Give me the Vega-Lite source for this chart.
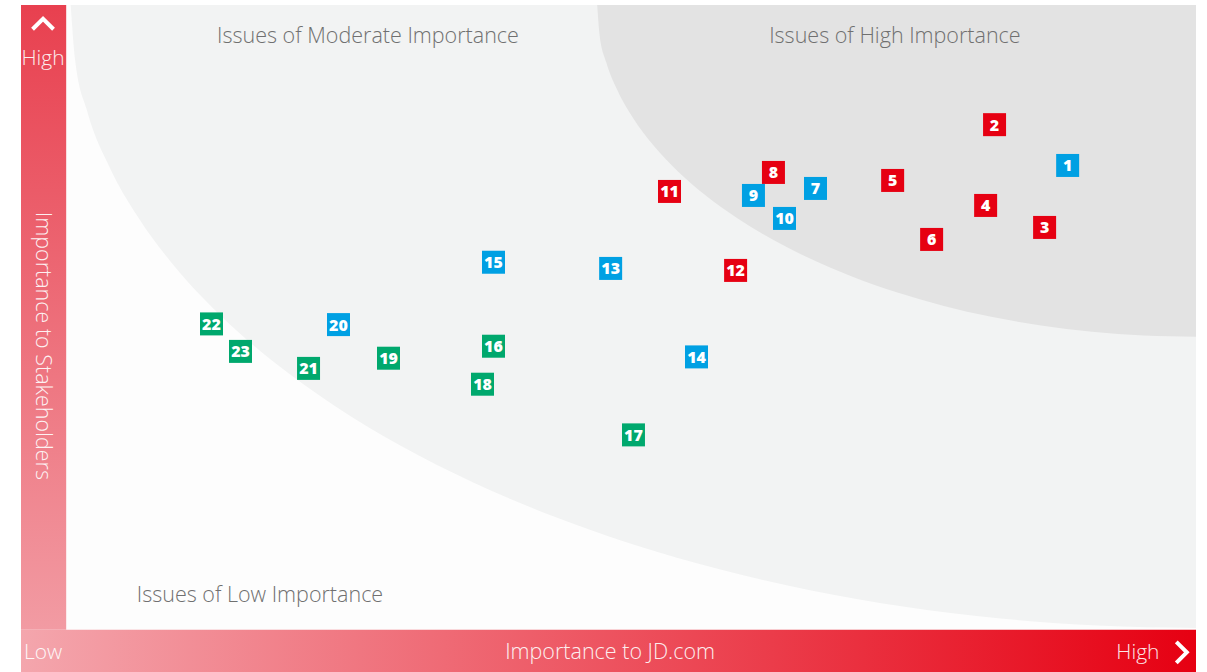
{
  "$schema": "https://vega.github.io/schema/vega-lite/v6.json",
  "width": 1175,
  "height": 667,
  "autosize": {"type": "none"},
  "padding": {"left": 21, "top": 5, "right": 11, "bottom": 0},
  "background": "#ffffff",
  "config": {"view": {"stroke": null, "fill": "#fdfdfd"}},
  "layer": [
    {
      "data": {"values": [
        {"x": 0.4, "y": 100}, {"x": 0.78, "y": 91.31}, {"x": 1.91, "y": 82.69}, {"x": 3.8, "y": 74.2},
        {"x": 6.41, "y": 65.9}, {"x": 9.73, "y": 57.87}, {"x": 13.75, "y": 50.15}, {"x": 18.41, "y": 42.81},
        {"x": 23.71, "y": 35.91}, {"x": 29.57, "y": 29.5}, {"x": 35.98, "y": 23.63}, {"x": 42.87, "y": 18.33},
        {"x": 50.2, "y": 13.66}, {"x": 57.91, "y": 9.64}, {"x": 65.94, "y": 6.31}, {"x": 74.22, "y": 3.7},
        {"x": 82.71, "y": 1.82}, {"x": 91.31, "y": 0.68}, {"x": 100, "y": 0.3}
      ]},
      "mark": {"type": "area", "color": "#f2f3f3", "interpolate": "monotone", "opacity": 1},
      "encoding": {
        "x": {"field": "x", "type": "quantitative", "scale": {"domain": [-4, 100], "nice": false, "zero": false}, "axis": null},
        "y": {"field": "y", "type": "quantitative", "scale": {"domain": [-6.75, 100], "nice": false, "zero": false}, "axis": null},
        "y2": {"datum": 100}
      }
    },
    {
      "data": {"values": [
        {"x": 47, "y": 100}, {"x": 47.2, "y": 95.37}, {"x": 47.81, "y": 90.78}, {"x": 48.81, "y": 86.26},
        {"x": 50.2, "y": 81.84}, {"x": 51.97, "y": 77.56}, {"x": 54.1, "y": 73.45}, {"x": 56.58, "y": 69.54},
        {"x": 59.4, "y": 65.87}, {"x": 62.52, "y": 62.45}, {"x": 65.93, "y": 59.33}, {"x": 69.6, "y": 56.5},
        {"x": 73.5, "y": 54.02}, {"x": 77.6, "y": 51.88}, {"x": 81.87, "y": 50.1}, {"x": 86.28, "y": 48.71},
        {"x": 90.8, "y": 47.71}, {"x": 95.38, "y": 47.1}, {"x": 100, "y": 46.9}
      ]},
      "mark": {"type": "area", "color": "#e3e3e3", "interpolate": "monotone", "opacity": 1},
      "encoding": {
        "x": {"field": "x", "type": "quantitative", "scale": {"domain": [-4, 100], "nice": false, "zero": false}, "axis": null},
        "y": {"field": "y", "type": "quantitative", "scale": {"domain": [-6.75, 100], "nice": false, "zero": false}, "axis": null},
        "y2": {"datum": 100}
      }
    },
    {
      "data": {"values": [{}]},
      "mark": {"type": "rect", "fill": {"gradient": "linear", "x1": 0, "y1": 0, "x2": 0, "y2": 1, "stops": [{"offset": 0, "color": "#e8404f"}, {"offset": 1, "color": "#f29ba3"}]}},
      "encoding": {
        "x": {"datum": -4, "type": "quantitative"},
        "x2": {"datum": 0},
        "y": {"datum": 0, "type": "quantitative"},
        "y2": {"datum": 100}
      }
    },
    {
      "data": {"values": [{}]},
      "mark": {"type": "rect", "fill": {"gradient": "linear", "x1": 0, "y1": 0, "x2": 1, "y2": 0, "stops": [{"offset": 0, "color": "#f4a6ad"}, {"offset": 1, "color": "#e60012"}]}},
      "encoding": {
        "x": {"datum": -4, "type": "quantitative"},
        "x2": {"datum": 100},
        "y": {"datum": -6.75, "type": "quantitative"},
        "y2": {"datum": 0}
      }
    },
    {
      "data": {"values": [{}]},
      "mark": {"type": "text", "text": "Issues of Moderate Importance", "font": "Open Sans", "fontSize": 21.5, "fontWeight": 300, "color": "#707070", "align": "center", "baseline": "alphabetic"},
      "encoding": {"x": {"datum": 26.71, "type": "quantitative"}, "y": {"datum": 93.87, "type": "quantitative"}}
    },
    {
      "data": {"values": [{}]},
      "mark": {"type": "text", "text": "Issues of High Importance", "font": "Open Sans", "fontSize": 21.5, "fontWeight": 300, "color": "#707070", "align": "center", "baseline": "alphabetic"},
      "encoding": {"x": {"datum": 73.35, "type": "quantitative"}, "y": {"datum": 93.84, "type": "quantitative"}}
    },
    {
      "data": {"values": [{}]},
      "mark": {"type": "text", "text": "Issues of Low Importance", "font": "Open Sans", "fontSize": 21.5, "fontWeight": 300, "color": "#707070", "align": "center", "baseline": "alphabetic"},
      "encoding": {"x": {"datum": 17.15, "type": "quantitative"}, "y": {"datum": 4.53, "type": "quantitative"}}
    },
    {
      "data": {"values": [{}]},
      "mark": {"type": "text", "text": "High", "font": "Open Sans", "fontSize": 21, "fontWeight": 300, "color": "#ffffff", "opacity": 0.9, "align": "center", "baseline": "alphabetic"},
      "encoding": {"x": {"datum": -2.05, "type": "quantitative"}, "y": {"datum": 90.4, "type": "quantitative"}}
    },
    {
      "data": {"values": [{}]},
      "mark": {"type": "text", "text": "Importance to Stakeholders", "font": "Open Sans", "fontSize": 21.5, "fontWeight": 300, "color": "#ffffff", "opacity": 0.9, "align": "center", "baseline": "alphabetic", "angle": 90},
      "encoding": {"x": {"datum": -2.67, "type": "quantitative"}, "y": {"datum": 45.44, "type": "quantitative"}}
    },
    {
      "data": {"values": [{}]},
      "mark": {"type": "text", "text": "Low", "font": "Open Sans", "fontSize": 21, "fontWeight": 300, "color": "#ffffff", "opacity": 0.9, "align": "center", "baseline": "alphabetic"},
      "encoding": {"x": {"datum": -2.05, "type": "quantitative"}, "y": {"datum": -4.64, "type": "quantitative"}}
    },
    {
      "data": {"values": [{}]},
      "mark": {"type": "text", "text": "Importance to JD.com", "font": "Open Sans", "fontSize": 21.5, "fontWeight": 300, "color": "#ffffff", "opacity": 0.9, "align": "center", "baseline": "alphabetic"},
      "encoding": {"x": {"datum": 48.14, "type": "quantitative"}, "y": {"datum": -4.64, "type": "quantitative"}}
    },
    {
      "data": {"values": [{}]},
      "mark": {"type": "text", "text": "High", "font": "Open Sans", "fontSize": 21, "fontWeight": 300, "color": "#ffffff", "opacity": 0.9, "align": "center", "baseline": "alphabetic"},
      "encoding": {"x": {"datum": 94.86, "type": "quantitative"}, "y": {"datum": -4.64, "type": "quantitative"}}
    },
    {
      "data": {"values": [{}]},
      "mark": {"type": "point", "shape": "M-1,0.5L0,-0.5L1,0.5", "size": 441, "filled": false, "stroke": "#ffffff", "strokeWidth": 4, "strokeCap": "butt", "strokeJoin": "miter", "opacity": 1},
      "encoding": {"x": {"datum": -2.05, "type": "quantitative"}, "y": {"datum": 96.96, "type": "quantitative"}}
    },
    {
      "data": {"values": [{}]},
      "mark": {"type": "point", "shape": "M-0.5,-1L0.5,0L-0.5,1", "size": 441, "filled": false, "stroke": "#ffffff", "strokeWidth": 4, "strokeCap": "butt", "strokeJoin": "miter", "opacity": 1},
      "encoding": {"x": {"datum": 98.72, "type": "quantitative"}, "y": {"datum": -3.6, "type": "quantitative"}}
    },
    {
      "data": {"name": "issues", "values": [
        {"id": 1, "x": 88.64, "y": 74.32, "group": "blue"},
        {"id": 2, "x": 82.17, "y": 80.85, "group": "red"},
        {"id": 3, "x": 86.6, "y": 64.4, "group": "red"},
        {"id": 4, "x": 81.38, "y": 67.92, "group": "red"},
        {"id": 5, "x": 73.15, "y": 71.92, "group": "red"},
        {"id": 6, "x": 76.6, "y": 62.48, "group": "red"},
        {"id": 7, "x": 66.32, "y": 70.64, "group": "blue"},
        {"id": 8, "x": 62.6, "y": 73.2, "group": "red"},
        {"id": 9, "x": 60.83, "y": 69.52, "group": "blue"},
        {"id": 10, "x": 63.58, "y": 65.84, "group": "blue"},
        {"id": 11, "x": 53.4, "y": 70.16, "group": "red"},
        {"id": 12, "x": 59.25, "y": 57.52, "group": "red"},
        {"id": 13, "x": 48.19, "y": 57.84, "group": "blue"},
        {"id": 14, "x": 55.79, "y": 43.68, "group": "blue"},
        {"id": 15, "x": 37.82, "y": 58.83, "group": "blue"},
        {"id": 16, "x": 37.82, "y": 45.39, "group": "green"},
        {"id": 17, "x": 50.21, "y": 31.2, "group": "green"},
        {"id": 18, "x": 36.85, "y": 39.31, "group": "green"},
        {"id": 19, "x": 28.53, "y": 43.47, "group": "green"},
        {"id": 20, "x": 24.1, "y": 48.85, "group": "blue"},
        {"id": 21, "x": 21.45, "y": 41.84, "group": "green"},
        {"id": 22, "x": 12.86, "y": 48.96, "group": "green"},
        {"id": 23, "x": 15.43, "y": 44.56, "group": "green"}
      ]},
      "layer": [
        {
          "mark": {"type": "point", "shape": "square", "size": 529, "filled": true, "opacity": 1, "strokeWidth": 0},
          "encoding": {
            "x": {"field": "x", "type": "quantitative"},
            "y": {"field": "y", "type": "quantitative"},
            "color": {"field": "group", "type": "nominal", "scale": {"domain": ["red", "blue", "green"], "range": ["#e60012", "#00a0e3", "#00a86d"]}, "legend": null}
          }
        },
        {
          "mark": {"type": "text", "font": "Open Sans", "fontSize": 16, "fontWeight": 800, "color": "#ffffff", "align": "center", "baseline": "middle", "dy": 1},
          "encoding": {
            "x": {"field": "x", "type": "quantitative"},
            "y": {"field": "y", "type": "quantitative"},
            "text": {"field": "id", "type": "nominal"}
          }
        }
      ]
    }
  ]
}
